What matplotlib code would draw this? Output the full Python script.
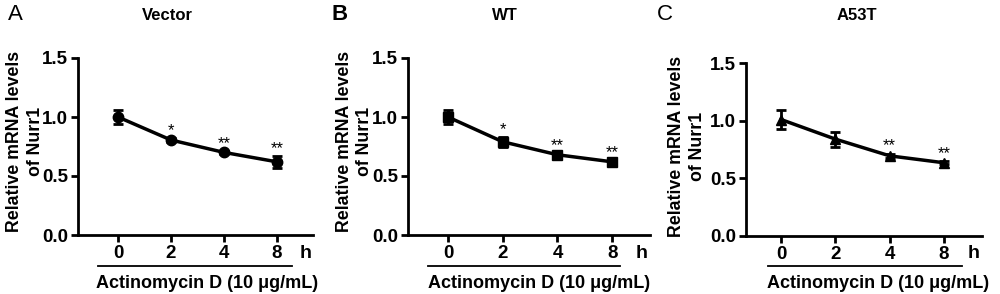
import matplotlib
matplotlib.use("Agg")
import matplotlib.pyplot as plt
import matplotlib.transforms as mtransforms

plt.rcParams["font.family"] = ["Liberation Sans", "DejaVu Sans"]
plt.rcParams["font.weight"] = "bold"

# data
time_labels = ["0", "2", "4", "8"]
titles = ["Vector", "WT", "A53T"]
panel_letters = ["A", "B", "C"]

vector_mean = [1.00, 0.805, 0.70, 0.62]
vector_err = [0.06, 0.02, 0.015, 0.05]
wt_mean = [1.00, 0.79, 0.68, 0.62]
wt_err = [0.06, 0.04, 0.015, 0.015]
a53t_mean = [1.01, 0.84, 0.695, 0.635]
a53t_err = [0.08, 0.065, 0.02, 0.012]

vector_stars = ["", "*", "**", "**"]
wt_stars = ["", "*", "**", "**"]
a53t_stars = ["", "", "**", "**"]

W, H = 1000, 294

# layout per panel (pixels)
panels = [
    dict(mean=vector_mean, err=vector_err, stars=vector_stars, marker="o", ms=7.5,
         ax=(78, 58, 313, 235), xlim=(-0.755, 3.68), title_x=167, letter_x=15,
         ylab=(-0.225, 0.53), line=(-0.38, 3.28), text_x=1.68),
    dict(mean=wt_mean, err=wt_err, stars=wt_stars, marker="s", ms=7.5,
         ax=(408, 58, 650, 235), xlim=(-0.73, 3.69), title_x=505, letter_x=340,
         ylab=(-0.22, 0.53), line=(-0.37, 3.14), text_x=1.66),
    dict(mean=a53t_mean, err=a53t_err, stars=a53t_stars, marker="^", ms=6.5,
         ax=(746, 63, 982, 236), xlim=(-0.645, 3.70), title_x=857, letter_x=665,
         ylab=(-0.25, 0.52), line=(-0.24, 3.33), text_x=1.79),
]

fig = plt.figure(figsize=(W / 100, H / 100), dpi=100)

for p, title, letter in zip(panels, titles, panel_letters):
    x0, y0, x1, y1 = p["ax"]
    ax = fig.add_axes([x0 / W, 1 - y1 / H, (x1 - x0) / W, (y1 - y0) / H])
    xs = list(range(len(time_labels)))
    ax.errorbar(xs, p["mean"], yerr=p["err"], color="black", lw=2.5,
                marker=p["marker"], ms=p["ms"], capsize=3.5, capthick=2, elinewidth=2)
    for x, m, e, s in zip(xs, p["mean"], p["err"], p["stars"]):
        if s:
            ax.text(x, m + e + 0.0, s, ha="center", va="bottom",
                    fontsize=12, fontweight="normal")
    ax.set_xlim(*p["xlim"])
    ax.set_ylim(0, 1.5)
    ax.set_yticks([0.0, 0.5, 1.0, 1.5])
    ax.set_yticklabels(["0.0", "0.5", "1.0", "1.5"])
    ax.set_xticks(xs)
    ax.set_xticklabels(time_labels)
    for side in ("top", "right"):
        ax.spines[side].set_visible(False)
    for side in ("left", "bottom"):
        ax.spines[side].set_linewidth(2)
    ax.tick_params(width=2, length=5, labelsize=13.5, pad=2)
    ax.set_ylabel("Relative mRNA levels\nof Nurr1", fontsize=12.8,
                  fontweight="bold", linespacing=1.25)
    ax.yaxis.label.set_verticalalignment("center")
    ax.yaxis.set_label_coords(*p["ylab"])

    trans = mtransforms.blended_transform_factory(ax.transData, fig.transFigure)
    ax.text(3.54, 1 - 253 / H, "h", transform=trans, ha="center", va="center",
            fontsize=14, fontweight="bold")
    ax.plot(p["line"], [1 - 266 / H] * 2, transform=trans, color="black",
            lw=1.3, clip_on=False)
    ax.text(p["text_x"], 1 - 283 / H, "Actinomycin D (10 μg/mL)", transform=trans,
            ha="center", va="center", fontsize=13, fontweight="bold")

    fig.text(p["title_x"] / W, 1 - 15 / H, title, ha="center", va="center",
             fontsize=12, fontweight="bold")
    fig.text(p["letter_x"] / W, 1 - 15 / H, letter, ha="center", va="center",
             fontsize=16, fontweight="bold" if letter == "B" else "normal")

fig.savefig("out.png", dpi=100)
